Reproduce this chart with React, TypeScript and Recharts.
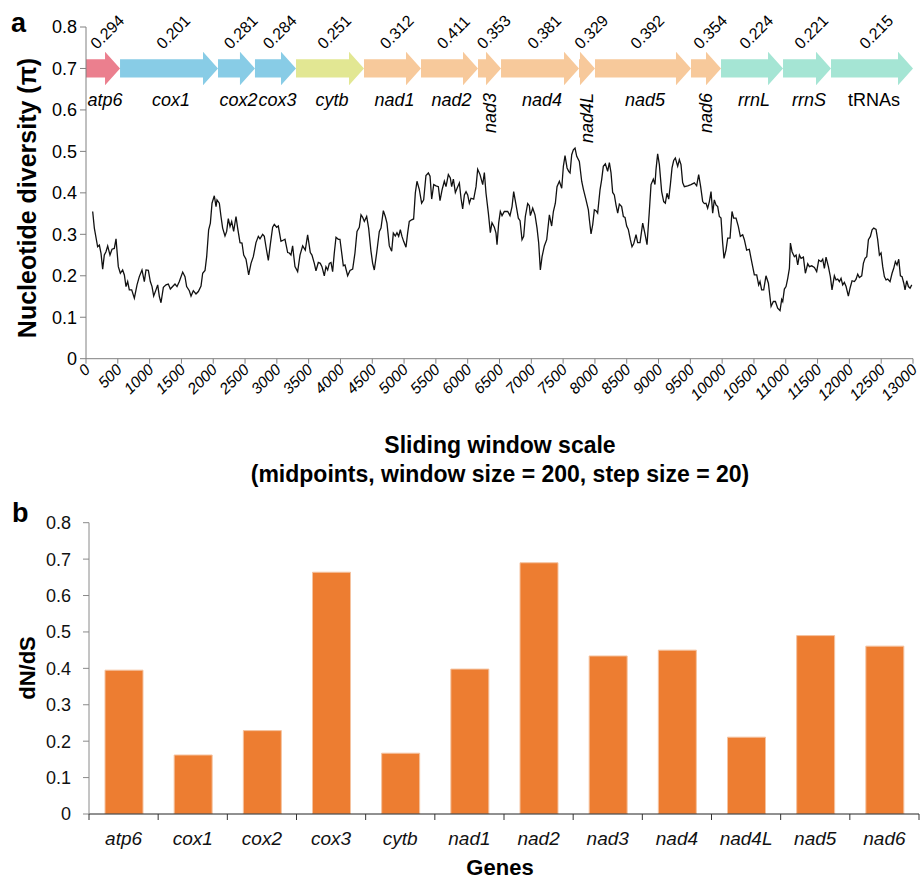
import React from 'react'
import {
  LineChart, Line, BarChart, Bar, XAxis, YAxis, ReferenceArea
} from 'recharts'

// ---- panel a: sliding window nucleotide diversity ----
const windowPos = [
  105, 131, 183, 210, 236, 262, 288, 314, 341, 377, 409, 445, 472, 508, 540, 576, 603, 629, 655, 681,
  718, 760, 802, 838, 880, 917, 943, 980, 1011, 1038, 1064, 1100, 1127, 1153, 1179, 1216, 1258, 1294, 1326, 1362,
  1399, 1431, 1467, 1520, 1556, 1582, 1624, 1651, 1687, 1729, 1766, 1808, 1834, 1871, 1897, 1928, 1955, 1981, 2017, 2044,
  2059, 2096, 2122, 2148, 2185, 2211, 2237, 2264, 2290, 2321, 2358, 2384, 2421, 2452, 2479, 2515, 2557, 2594, 2630, 2672,
  2709, 2735, 2777, 2803, 2829, 2866, 2897, 2934, 2960, 2997, 3023, 3065, 3091, 3128, 3170, 3196, 3222, 3248, 3285, 3327,
  3364, 3406, 3447, 3484, 3526, 3552, 3589, 3615, 3652, 3683, 3709, 3746, 3772, 3799, 3825, 3851, 3877, 3903, 3930, 3966,
  3992, 4024, 4045, 4071, 4113, 4150, 4192, 4228, 4260, 4296, 4323, 4349, 4375, 4412, 4443, 4480, 4506, 4532, 4569, 4611,
  4637, 4674, 4705, 4731, 4768, 4805, 4831, 4862, 4888, 4915, 4941, 4967, 4993, 5030, 5056, 5082, 5119, 5150, 5177, 5203,
  5240, 5276, 5308, 5344, 5382, 5408, 5434, 5466, 5502, 5539, 5565, 5597, 5633, 5659, 5696, 5727, 5748, 5775, 5806, 5843,
  5869, 5895, 5921, 5948, 5974, 6000, 6026, 6052, 6094, 6131, 6157, 6194, 6236, 6262, 6288, 6325, 6356, 6382, 6419, 6445,
  6461, 6487, 6513, 6540, 6576, 6629, 6665, 6697, 6723, 6760, 6796, 6823, 6854, 6880, 6906, 6943, 6969, 6985, 7022, 7058,
  7090, 7116, 7142, 7169, 7205, 7242, 7284, 7320, 7347, 7378, 7404, 7441, 7478, 7504, 7530, 7562, 7588, 7609, 7635, 7661,
  7687, 7714, 7755, 7792, 7818, 7860, 7897, 7913, 7939, 7965, 7991, 8017, 8043, 8080, 8106, 8132, 8164, 8200, 8227, 8253,
  8279, 8305, 8331, 8358, 8384, 8420, 8447, 8473, 8499, 8525, 8557, 8583, 8609, 8646, 8672, 8709, 8751, 8787, 8819, 8855,
  8882, 8918, 8944, 8960, 8986, 9013, 9049, 9081, 9107, 9133, 9160, 9186, 9212, 9238, 9264, 9301, 9327, 9353, 9379, 9406,
  9458, 9510, 9563, 9599, 9631, 9662, 9694, 9720, 9746, 9772, 9799, 9825, 9851, 9877, 9903, 9930, 9956, 9982, 10008, 10029,
  10060, 10087, 10124, 10155, 10181, 10218, 10254, 10286, 10323, 10349, 10385, 10427, 10454, 10480, 10506, 10543, 10574, 10595, 10621, 10653,
  10689, 10727, 10769, 10805, 10837, 10873, 10910, 10936, 10952, 10978, 11004, 11031, 11057, 11073, 11099, 11135, 11162, 11188, 11214, 11240,
  11277, 11308, 11345, 11371, 11408, 11450, 11486, 11518, 11555, 11581, 11607, 11633, 11670, 11701, 11727, 11764, 11790, 11817, 11843, 11869,
  11895, 11921, 11948, 11984, 12010, 12042, 12079, 12105, 12131, 12157, 12194, 12220, 12246, 12273, 12299, 12330, 12357, 12383, 12419, 12445,
  12472, 12498, 12524, 12550, 12576, 12603, 12639, 12671, 12697, 12723, 12749, 12776, 12802, 12828, 12855, 12875, 12901, 12928, 12954, 12980
]

const windowPi = [
  0.355, 0.315, 0.270, 0.274, 0.254, 0.216, 0.250, 0.258, 0.272, 0.250, 0.264, 0.266, 0.289, 0.222, 0.206, 0.214, 0.202, 0.174, 0.186, 0.166,
  0.166, 0.146, 0.178, 0.198, 0.214, 0.186, 0.214, 0.213, 0.186, 0.174, 0.151, 0.166, 0.178, 0.150, 0.135, 0.172, 0.178, 0.180, 0.168, 0.174,
  0.180, 0.174, 0.186, 0.209, 0.198, 0.174, 0.164, 0.151, 0.164, 0.156, 0.162, 0.175, 0.206, 0.213, 0.246, 0.311, 0.327, 0.375, 0.393, 0.367,
  0.383, 0.375, 0.343, 0.315, 0.296, 0.307, 0.338, 0.319, 0.331, 0.307, 0.343, 0.315, 0.280, 0.279, 0.250, 0.240, 0.202, 0.230, 0.246, 0.280,
  0.295, 0.289, 0.300, 0.295, 0.270, 0.237, 0.275, 0.317, 0.324, 0.317, 0.320, 0.283, 0.285, 0.288, 0.256, 0.255, 0.250, 0.272, 0.222, 0.210,
  0.250, 0.272, 0.262, 0.299, 0.256, 0.250, 0.230, 0.212, 0.232, 0.230, 0.222, 0.200, 0.222, 0.214, 0.230, 0.232, 0.210, 0.255, 0.293, 0.288,
  0.288, 0.250, 0.224, 0.226, 0.200, 0.213, 0.216, 0.255, 0.307, 0.317, 0.347, 0.341, 0.331, 0.343, 0.315, 0.259, 0.230, 0.214, 0.255, 0.307,
  0.315, 0.357, 0.343, 0.327, 0.272, 0.259, 0.303, 0.296, 0.304, 0.295, 0.311, 0.295, 0.283, 0.269, 0.303, 0.331, 0.335, 0.337, 0.400, 0.428,
  0.408, 0.375, 0.383, 0.442, 0.448, 0.440, 0.385, 0.420, 0.417, 0.415, 0.381, 0.407, 0.428, 0.415, 0.444, 0.436, 0.415, 0.433, 0.401, 0.415,
  0.424, 0.387, 0.361, 0.395, 0.403, 0.395, 0.375, 0.387, 0.385, 0.415, 0.457, 0.444, 0.420, 0.449, 0.399, 0.351, 0.304, 0.328, 0.317, 0.303,
  0.275, 0.327, 0.355, 0.345, 0.355, 0.355, 0.345, 0.367, 0.403, 0.371, 0.339, 0.333, 0.287, 0.295, 0.343, 0.374, 0.369, 0.345, 0.363, 0.347,
  0.315, 0.279, 0.214, 0.246, 0.272, 0.287, 0.347, 0.320, 0.355, 0.375, 0.415, 0.428, 0.411, 0.464, 0.490, 0.460, 0.452, 0.448, 0.492, 0.504,
  0.508, 0.488, 0.476, 0.428, 0.409, 0.383, 0.359, 0.335, 0.301, 0.323, 0.359, 0.357, 0.351, 0.407, 0.432, 0.464, 0.470, 0.452, 0.473, 0.448,
  0.401, 0.395, 0.371, 0.351, 0.373, 0.367, 0.343, 0.341, 0.320, 0.312, 0.287, 0.270, 0.277, 0.299, 0.280, 0.280, 0.327, 0.301, 0.275, 0.355,
  0.420, 0.433, 0.420, 0.456, 0.494, 0.468, 0.403, 0.379, 0.375, 0.399, 0.385, 0.420, 0.460, 0.478, 0.484, 0.464, 0.480, 0.468, 0.425, 0.415,
  0.417, 0.420, 0.424, 0.417, 0.444, 0.415, 0.379, 0.374, 0.375, 0.363, 0.379, 0.403, 0.351, 0.383, 0.371, 0.367, 0.343, 0.339, 0.279, 0.242,
  0.262, 0.291, 0.291, 0.355, 0.339, 0.339, 0.319, 0.295, 0.299, 0.287, 0.262, 0.264, 0.242, 0.222, 0.202, 0.202, 0.178, 0.186, 0.166, 0.166,
  0.200, 0.182, 0.126, 0.138, 0.138, 0.122, 0.116, 0.143, 0.138, 0.168, 0.174, 0.194, 0.218, 0.279, 0.258, 0.246, 0.250, 0.226, 0.250, 0.242,
  0.245, 0.206, 0.229, 0.222, 0.224, 0.220, 0.210, 0.238, 0.234, 0.240, 0.218, 0.245, 0.222, 0.198, 0.166, 0.200, 0.190, 0.192, 0.186, 0.194,
  0.178, 0.184, 0.174, 0.151, 0.170, 0.188, 0.186, 0.192, 0.204, 0.196, 0.200, 0.230, 0.242, 0.246, 0.287, 0.295, 0.311, 0.315, 0.312, 0.287,
  0.250, 0.255, 0.222, 0.198, 0.190, 0.192, 0.186, 0.206, 0.218, 0.234, 0.226, 0.240, 0.200, 0.198, 0.182, 0.166, 0.188, 0.174, 0.170, 0.178
]

const piTicks = [0, 0.1, 0.2, 0.3, 0.4, 0.5, 0.6, 0.7, 0.8]
const posTicks = [
  0, 500, 1000, 1500, 2000, 2500, 3000, 3500, 4000, 4500, 5000, 5500, 6000, 6500,
  7000, 7500, 8000, 8500, 9000, 9500, 10000, 10500, 11000, 11500, 12000, 12500, 13000
]

// gene map drawn along the top of panel a
const geneNames = ['atp6', 'cox1', 'cox2', 'cox3', 'cytb', 'nad1', 'nad2', 'nad3', 'nad4', 'nad4L', 'nad5', 'nad6', 'rrnL', 'rrnS', 'tRNAs']
const geneStart = [0, 535, 2075, 2656, 3301, 4370, 5266, 6162, 6524, 7750, 8001, 9510, 9982, 10957, 11711]
const geneEnd = [535, 2075, 2656, 3301, 4370, 5266, 6162, 6524, 7750, 8001, 9510, 9982, 10957, 11711, 13000]
const genePi = ['0.294', '0.201', '0.281', '0.284', '0.251', '0.312', '0.411', '0.353', '0.381', '0.329', '0.392', '0.354', '0.224', '0.221', '0.215']

// ---- panel b: dN/dS per gene ----
const pcgNames = ['atp6', 'cox1', 'cox2', 'cox3', 'cytb', 'nad1', 'nad2', 'nad3', 'nad4', 'nad4L', 'nad5', 'nad6']
const dnds = [0.395, 0.162, 0.229, 0.664, 0.167, 0.398, 0.690, 0.434, 0.450, 0.211, 0.490, 0.461]
const dndsTicks = [0, 0.1, 0.2, 0.3, 0.4, 0.5, 0.6, 0.7, 0.8]

const FONT = "Arial, 'Liberation Sans', sans-serif"

const geneColor = (name: string) => {
  if (name.startsWith('atp')) return '#EB7F8E'
  if (name.startsWith('cox')) return '#88CCE6'
  if (name.startsWith('cytb')) return '#E2E793'
  if (name.startsWith('nad')) return '#F7C99B'
  return '#A5E5D4'
}
const verticalLabel = ['nad3', 'nad4L', 'nad6']

function GeneArrow(props: any) {
  const { x, y, width, height, idx } = props
  const name = geneNames[idx]
  const head = Math.min(15, width)
  const extra = height * 0.42
  const bx = x + width - head
  const cy = y + height / 2
  const pts = [
    [x, y], [bx, y], [bx, y - extra], [x + width, cy],
    [bx, y + height + extra], [bx, y + height], [x, y + height]
  ].map(p => p.join(',')).join(' ')
  const cx = x + width / 2
  const vertical = verticalLabel.includes(name)
  return (
    <g>
      <polygon points={pts} fill={geneColor(name)} />
      <text
        x={cx - 6} y={50} fontSize={16} fontFamily={FONT} fill="#000"
        transform={`rotate(-45 ${cx - 6} 50)`}
      >{genePi[idx]}</text>
      {vertical ? (
        <text
          x={cx + 6} y={93} fontSize={18} fontFamily={FONT} fontStyle="italic"
          textAnchor="end" transform={`rotate(-90 ${cx + 6} 93)`}
        >{name}</text>
      ) : (
        <text
          x={cx + 2} y={106} fontSize={18} fontFamily={FONT} textAnchor="middle"
          fontStyle={name === 'tRNAs' ? 'normal' : 'italic'}
        >{name}</text>
      )}
    </g>
  )
}

function PosTick(props: any) {
  const { x, y, payload } = props
  const tx = x + 5
  const ty = y + 5
  return (
    <text
      x={tx} y={ty} fontSize={15.5} fontFamily={FONT} textAnchor="end" fontStyle="italic"
      transform={`rotate(-45 ${tx} ${ty})`}
    >{payload.value}</text>
  )
}

function GeneTick(props: any) {
  const { x, y, payload } = props
  const v = payload.value
  if (Number.isInteger(v)) {
    return <line x1={x} x2={x} y1={y} y2={y + 6} stroke="#333" />
  }
  return (
    <text x={x} y={y + 31} fontSize={19} fontFamily={FONT} fontStyle="italic" textAnchor="middle" fill="#111">
      {pcgNames[Math.floor(v)]}
    </text>
  )
}

export default function App() {
  const lineData = windowPos.map((p, i) => ({ pos: p, pi: windowPi[i] }))
  const barData = pcgNames.map((g, i) => ({ slot: i + 0.5, gene: g, value: dnds[i] }))
  const barTicks: number[] = []
  for (let i = 0; i <= 24; i++) barTicks.push(i / 2)

  return (
    <div style={{ position: 'absolute', left: 0, top: 0, width: 920, height: 879, background: '#fff', fontFamily: FONT }}>
      <div style={{ position: 'absolute', left: 0, top: 0 }}>
        <LineChart width={920} height={500} data={lineData} margin={{ top: 27, right: 7, bottom: 81.3, left: 26 }}>
          <XAxis
            dataKey="pos" type="number" domain={[0, 13000]} ticks={posTicks} allowDataOverflow
            stroke="#808080" tickSize={5} interval={0} height={60} tick={<PosTick />}
          />
          <YAxis
            type="number" domain={[0, 0.8]} ticks={piTicks} allowDataOverflow width={60}
            stroke="#808080" tickSize={6} tickMargin={3}
            tick={{ fontSize: 18, fill: '#000', fontFamily: FONT }}
          />
          {geneNames.map((g, i) => (
            <ReferenceArea
              key={g} x1={geneStart[i]} x2={geneEnd[i]} y1={0.678} y2={0.722}
              ifOverflow="visible"
              shape={(p: any) => <GeneArrow {...p} idx={i} />}
            />
          ))}
          <Line
            type="linear" dataKey="pi" stroke="#111" strokeWidth={1.3} dot={false}
            isAnimationActive={false}
          />
        </LineChart>
      </div>

      <div style={{ position: 'absolute', left: 0, top: 480 }}>
        <BarChart width={920} height={399} data={barData} margin={{ top: 42.7, right: 1, bottom: 35, left: 29 }}>
          <XAxis
            dataKey="slot" type="number" domain={[0, 12]} ticks={barTicks} interval={0} allowDataOverflow
            stroke="#222" tickLine={false} tickSize={0} tickMargin={0} height={30} tick={<GeneTick />}
          />
          <YAxis
            type="number" domain={[0, 0.8]} ticks={dndsTicks} allowDataOverflow width={60}
            stroke="#8a8a8a" tickSize={6} tickMargin={12}
            tick={{ fontSize: 18, fill: '#111', fontFamily: FONT }}
          />
          <Bar dataKey="value" fill="#ED7D31" stroke="#F5C3A0" strokeWidth={1} barSize={38} isAnimationActive={false} />
        </BarChart>
      </div>

      <svg width={920} height={879} style={{ position: 'absolute', left: 0, top: 0, pointerEvents: 'none' }}>
        <text x={11} y={32} fontSize={27} fontWeight="bold" fontFamily={FONT}>a</text>
        <text
          x={36} y={198} fontSize={25} fontWeight="bold" fontFamily={FONT} textAnchor="middle"
          transform="rotate(-90 36 198)"
        >Nucleotide diversity (π)</text>
        <text x={500} y={453} fontSize={23} fontWeight="bold" fontFamily={FONT} textAnchor="middle">
          Sliding window scale
        </text>
        <text x={500} y={482} fontSize={23} fontWeight="bold" fontFamily={FONT} textAnchor="middle">
          (midpoints, window size = 200, step size = 20)
        </text>
        <text x={12} y={522} fontSize={27} fontWeight="bold" fontFamily={FONT}>b</text>
        <text
          x={35} y={668} fontSize={22} fontWeight="bold" fontFamily={FONT} textAnchor="middle"
          transform="rotate(-90 35 668)"
        >dN/dS</text>
        <text x={500} y={875} fontSize={22} fontWeight="bold" fontFamily={FONT} textAnchor="middle">Genes</text>
      </svg>
    </div>
  )
}
